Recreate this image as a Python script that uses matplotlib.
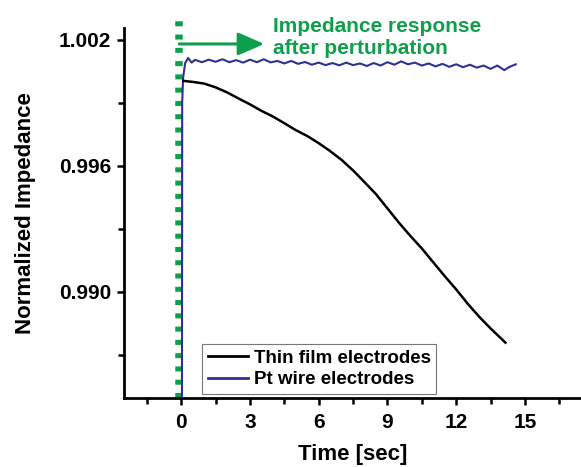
import matplotlib
matplotlib.use("Agg")
import matplotlib.pyplot as plt
from matplotlib.ticker import MultipleLocator, FixedLocator
from matplotlib.patches import FancyArrowPatch

plt.rcParams['font.family'] = ['Liberation Sans', 'DejaVu Sans']
plt.rcParams['font.weight'] = 'bold'

# ---- data ----
thin_t = [0.09, 0.5, 1.0, 1.5, 2.0, 2.5, 3.0, 3.5, 4.0, 4.5, 5.0, 5.5, 6.0, 6.5,
          7.0, 7.5, 8.0, 8.5, 9.0, 9.5, 10.0, 10.5, 11.0, 11.5, 12.0, 12.5,
          13.0, 13.5, 14.15]
thin_v = [1.00005, 1.00000, 0.99992, 0.99974, 0.99950, 0.99921, 0.99893, 0.99862,
          0.99835, 0.99803, 0.99770, 0.99742, 0.99708, 0.99670, 0.99628, 0.99578,
          0.99522, 0.99465, 0.99397, 0.99329, 0.99266, 0.99206, 0.99140, 0.99074,
          0.99011, 0.98943, 0.98881, 0.98825, 0.98757]

pt_t = [0.03, 0.04, 0.08, 0.17, 0.3, 0.45, 0.6, 0.9, 1.2, 1.5, 1.8, 2.1, 2.4, 2.7,
        3.0, 3.3, 3.6, 3.9, 4.2, 4.5, 4.8, 5.1, 5.4, 5.7, 6.0, 6.3, 6.6, 6.9,
        7.2, 7.5, 7.8, 8.1, 8.4, 8.7, 9.0, 9.3, 9.6, 9.9, 10.2, 10.5, 10.8,
        11.1, 11.4, 11.7, 12.0, 12.3, 12.6, 12.9, 13.2, 13.5, 13.8, 14.1, 14.3, 14.6]
pt_v = [0.98400, 0.99900, 1.00020, 1.00090, 1.00114, 1.00092, 1.00105, 1.00094,
        1.00106, 1.00096, 1.00108, 1.00094, 1.00104, 1.00092, 1.00106, 1.00094,
        1.00108, 1.00093, 1.00100, 1.00088, 1.00100, 1.00086, 1.00095, 1.00082,
        1.00092, 1.00080, 1.00090, 1.00079, 1.00092, 1.00080, 1.00088, 1.00076,
        1.00090, 1.00078, 1.00094, 1.00082, 1.00098, 1.00084, 1.00092, 1.00078,
        1.00088, 1.00074, 1.00086, 1.00072, 1.00084, 1.00070, 1.00082, 1.00068,
        1.00078, 1.00062, 1.00078, 1.00056, 1.00070, 1.00084]

perturb_t = -0.087
arrow_end_t = 3.62
arrow_y = 1.00181
annot_lines = ["Impedance response", "after perturbation"]
x_major = [0, 3, 6, 9, 12, 15]
y_major = [0.990, 0.996, 1.002]
y_labels = ["0.990", "0.996", "1.002"]

green = '#0e9f4c'
blue = '#2e3192'

fig = plt.figure(figsize=(5.81, 4.67), dpi=100)
ax = fig.add_axes([124/581, 69/467, 1 - 124/581, 370/467])

ax.plot(pt_t, pt_v, color=blue, lw=1.5, label='Pt wire electrodes', zorder=3)
ax.plot(thin_t, thin_v, color='black', lw=1.8, label='Thin film electrodes', zorder=4)

# legend order: thin film first
h, l = ax.get_legend_handles_labels()
leg = ax.legend([h[1], h[0]], [l[1], l[0]], loc='lower left',
                bbox_to_anchor=(0.1707, 0.0108), borderaxespad=0,
                fontsize=13.5, frameon=True, fancybox=False, framealpha=1,
                edgecolor='#777777', handlelength=2.15, handletextpad=0.3,
                borderpad=0.3, labelspacing=0.25)
leg.get_frame().set_linewidth(0.8)
for line in leg.get_lines():
    line.set_linewidth(2.0)
leg.set_zorder(2)

# perturbation line
ax.axvline(perturb_t, ymin=0, ymax=1.04, color=green, lw=5.4,
           dashes=(0.67, 1.1), dash_capstyle='butt', clip_on=False, zorder=2)

arr = FancyArrowPatch((perturb_t, arrow_y), (arrow_end_t, arrow_y),
                      arrowstyle='-|>,head_length=16,head_width=7',
                      mutation_scale=1, color=green, lw=2.2,
                      shrinkA=0, shrinkB=0, clip_on=False, zorder=5)
ax.add_patch(arr)
ax.text(4.0, 1.00238, annot_lines[0], color=green, fontsize=15, fontweight='bold',
        ha='left', va='baseline', clip_on=False)
ax.text(4.0, 1.00133, annot_lines[1], color=green, fontsize=15, fontweight='bold',
        ha='left', va='baseline', clip_on=False)

ax.set_xlim(-2.5, 17.45)
ax.set_ylim(0.98493, 1.00257)
ax.xaxis.set_major_locator(FixedLocator(x_major))
ax.xaxis.set_minor_locator(MultipleLocator(1.5))
ax.yaxis.set_major_locator(FixedLocator(y_major))
ax.set_yticklabels(y_labels)
ax.yaxis.set_minor_locator(FixedLocator([0.987, 0.993, 0.999]))

for s in ['top', 'right']:
    ax.spines[s].set_visible(False)
for s in ['left', 'bottom']:
    ax.spines[s].set_linewidth(2.0)

ax.tick_params(axis='both', which='major', direction='out', length=5, width=1.8,
               labelsize=15, pad=4)
ax.tick_params(axis='both', which='minor', direction='out', length=4.5, width=1.8)
ax.tick_params(axis='x', which='major', pad=6)
for lab in ax.get_xticklabels() + ax.get_yticklabels():
    lab.set_fontweight('bold')

ax.set_xlabel('Time [sec]', fontsize=16, fontweight='bold', labelpad=8.5)
ax.set_ylabel('Normalized Impedance', fontsize=16, fontweight='bold', labelpad=17)

fig.savefig('out.png', dpi=100)
